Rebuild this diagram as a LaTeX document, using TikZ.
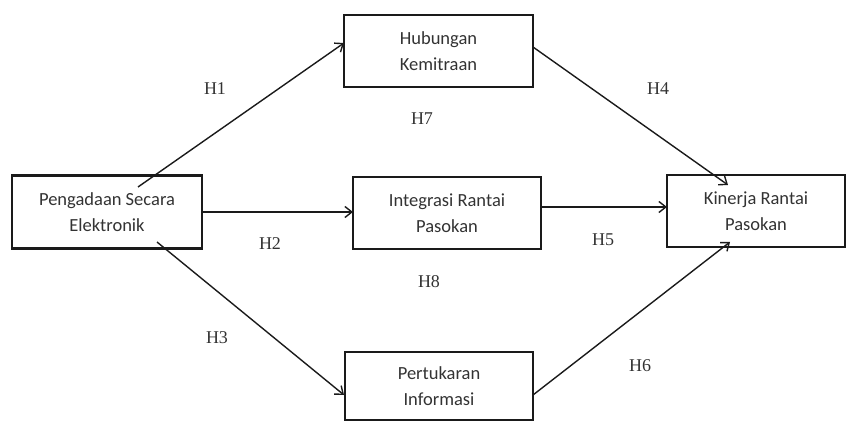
\documentclass[tikz,border=0pt]{standalone}
\usepackage{fontspec}
\setmainfont{Carlito}
\newfontfamily\labfont{Liberation Serif}
\usetikzlibrary{arrows.meta}
\definecolor{txt}{HTML}{333333}
\definecolor{ln}{HTML}{1A1A1A}
\begin{document}
\begin{tikzpicture}[x=1pt,y=-1pt,
  boxnode/.style={draw=ln,line width=2.8pt,fill=white,align=center,text=txt,
    font=\fontsize{18.5}{26}\selectfont,inner sep=0pt},
  conn/.style={draw=ln,line width=1.4pt,-{Straight Barb[length=7pt,width=11pt,line width=1.4pt]}},
  hlab/.style={text=txt,font=\labfont\fontsize{18}{20}\selectfont,inner sep=0pt}]
\useasboundingbox (0,0) rectangle (847,422);
% boxes
\node[boxnode,minimum width=190pt,minimum height=73pt] (pse) at (107,212) {Pengadaan Secara\\Elektronik};
\node[boxnode,minimum width=189pt,minimum height=72pt] (hk) at (438.5,51) {Hubungan\\Kemitraan};
\node[boxnode,minimum width=188pt,minimum height=72pt] (irp) at (447,213) {Integrasi Rantai\\Pasokan};
\node[boxnode,minimum width=188pt,minimum height=68pt] (pi) at (439,386) {Pertukaran\\Informasi};
\node[boxnode,minimum width=178pt,minimum height=72pt] (krp) at (756,211) {Kinerja Rantai\\Pasokan};
% connector anchor points
\coordinate (s1) at (138,187);
\coordinate (e1) at (344,43);
\coordinate (s3) at (157,242);
\coordinate (e3) at (344,395);
\coordinate (s4) at (533,47);
\coordinate (e4) at (728,185);
\coordinate (s6) at (533,395);
\coordinate (e6) at (730,242);
\coordinate (s2) at (202,212);
\coordinate (e2) at (353,212);
\coordinate (s5) at (541,207);
\coordinate (e5) at (667,207);
% connectors
\draw[conn] (s1) -- (e1);
\draw[conn] (s2) -- (e2);
\draw[conn] (s3) -- (e3);
\draw[conn] (s4) -- (e4);
\draw[conn] (s5) -- (e5);
\draw[conn] (s6) -- (e6);
% labels
\node[hlab] (h1) at (215,89) {H1};
\node[hlab] (h2) at (270,244) {H2};
\node[hlab] (h3) at (217,338) {H3};
\node[hlab] (h4) at (658,89) {H4};
\node[hlab] (h5) at (603,240) {H5};
\node[hlab] (h6) at (640,366) {H6};
\node[hlab] (h7) at (422,119) {H7};
\node[hlab] (h8) at (429,282) {H8};
\end{tikzpicture}
\end{document}
